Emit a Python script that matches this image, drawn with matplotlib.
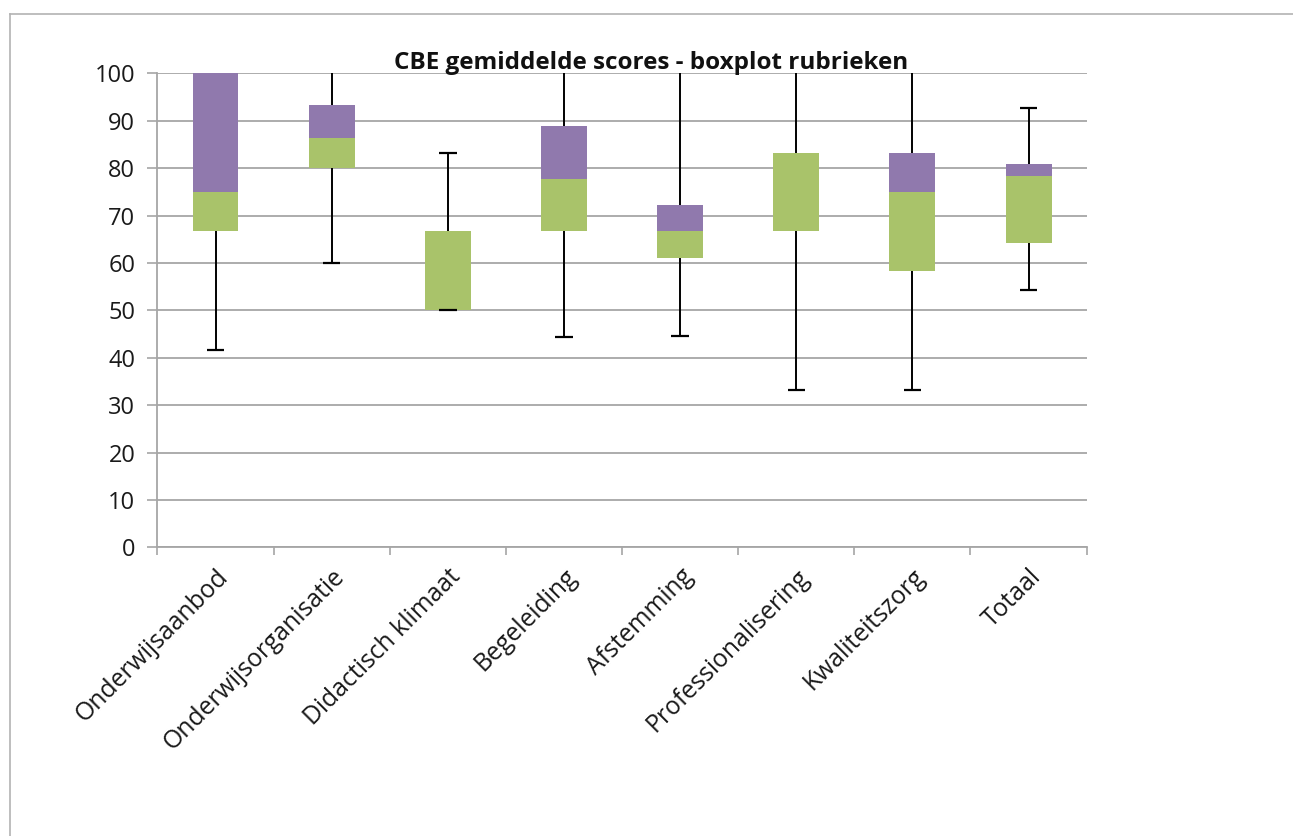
import matplotlib
matplotlib.use("Agg")
import matplotlib.pyplot as plt
from matplotlib.lines import Line2D

categories = ["Onderwijsaanbod", "Onderwijsorganisatie", "Didactisch klimaat",
              "Begeleiding", "Afstemming", "Professionalisering",
              "Kwaliteitszorg", "Totaal"]
minimum = [41.7, 60.0, 50.0, 44.4, 44.7, 33.3, 33.3, 54.4]
q1 = [66.7, 80.0, 50.0, 66.7, 61.1, 66.7, 58.3, 64.3]
median = [75.0, 86.4, 66.7, 77.8, 66.7, 83.3, 75.0, 78.4]
q3 = [100.0, 93.3, 66.7, 88.9, 72.2, 83.3, 83.3, 80.9]
maximum = [100.0, 100.0, 83.3, 100.0, 100.0, 100.0, 100.0, 92.7]
yticks = list(range(0, 101, 10))

title = "CBE gemiddelde scores - boxplot rubrieken"

green = "#a9c36a"
purple = "#9079ad"
grid = "#a6a6a6"
font = "Open Sans"

fig = plt.figure(figsize=(12.93, 8.36), dpi=100)
ax = fig.add_axes([0.1218, 0.3451, 0.7186, 0.5672])

x = list(range(len(categories)))
lower_h = [m - a for m, a in zip(median, q1)]
upper_h = [b - m for b, m in zip(q3, median)]

# whiskers from the quartiles out to min / max
ax.vlines(x, q3, maximum, color="black", lw=1.4, zorder=2)
ax.vlines(x, minimum, q1, color="black", lw=1.4, zorder=2)
cap = 0.075
ax.hlines([v for v in minimum], [i - cap for i in x], [i + cap for i in x],
          color="black", lw=1.6, zorder=4)
top_x = [i for i, v in zip(x, maximum) if v < 100]
top_v = [v for v in maximum if v < 100]
ax.hlines(top_v, [i - cap for i in top_x], [i + cap for i in top_x],
          color="black", lw=1.6, zorder=4)

# stacked box: Q1 -> median (green), median -> Q3 (purple)
ax.bar(x, lower_h, bottom=q1, width=0.395, color=green, zorder=3)
ax.bar(x, upper_h, bottom=median, width=0.395, color=purple, zorder=3)

ax.set_xlim(-0.5, len(categories) - 0.5)
ax.set_ylim(0, 100)
ax.set_yticks(yticks)
ax.set_yticklabels([str(t) for t in yticks], fontsize=17, family=font, color="#1a1a1a")
ax.yaxis.grid(True, color=grid, lw=1.3, zorder=0)
ax.set_axisbelow(True)

ax.set_xticks([i - 0.5 for i in range(len(categories) + 1)])
ax.set_xticklabels([])
ax.set_xticks(x, minor=True)
ax.set_xticklabels(categories, minor=True, rotation=45, ha="right",
                   rotation_mode="anchor", fontsize=17.8, family=font,
                   color="#1a1a1a")
ax.tick_params(axis="x", which="minor", length=0, pad=12)
ax.tick_params(axis="x", which="major", length=6, width=1.2, color=grid)
ax.tick_params(axis="y", length=7, width=1.2, color=grid, pad=9)

for side in ("top", "right"):
    ax.spines[side].set_visible(False)
for side in ("left", "bottom"):
    ax.spines[side].set_color(grid)
    ax.spines[side].set_linewidth(1.3)

fig.text(0.5035, 1 - 69 / 836, title, ha="center", va="baseline", fontsize=17.5,
         fontweight="bold", family=font, color="#111111")

# chart frame
fig.add_artist(Line2D([10 / 1293, 10 / 1293], [0, 1 - 14 / 836],
                      transform=fig.transFigure, color="#b3b3b3", lw=1.2))
fig.add_artist(Line2D([10 / 1293, 1], [1 - 14 / 836, 1 - 14 / 836],
                      transform=fig.transFigure, color="#b3b3b3", lw=1.2))

fig.savefig("out.png", dpi=100)
